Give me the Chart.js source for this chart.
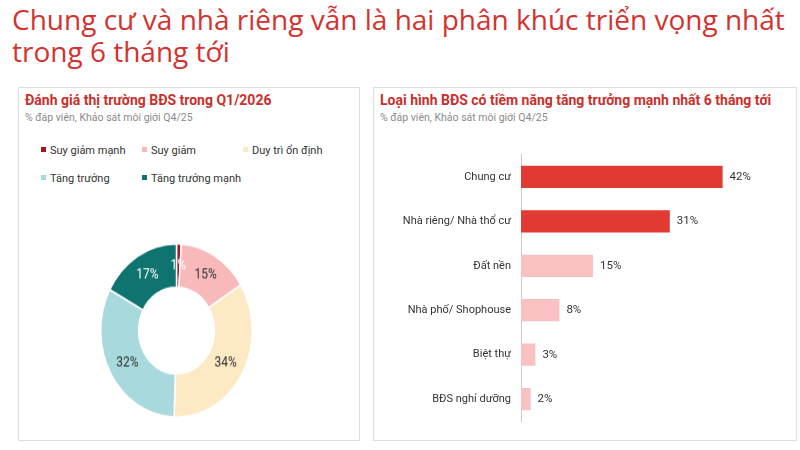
<!DOCTYPE html>
<html lang="vi">
<head>
<meta charset="UTF-8">
<title>Chung cư và nhà riêng</title>
<script src="https://cdn.jsdelivr.net/npm/chart.js"></script>
<style>
    body {
        margin: 0;
        width: 800px;
        height: 450px;
        background: #fff;
        font-family: Roboto, "Noto Sans", sans-serif;
        position: relative;
        overflow: hidden;
    }
    .title {
        position: absolute;
        left: 12px;
        top: 3px;
        font-family: "Open Sans", sans-serif;
        font-size: 28px;
        line-height: 32px;
        color: #d4322e;
        white-space: nowrap;
    }
    .panel {
        position: absolute;
        top: 87px;
        height: 354px;
        border: 1.5px solid #dedede;
        background: #fff;
        box-sizing: border-box;
    }
    .panel h3 {
        position: absolute;
        left: 6px;
        top: 4px;
        margin: 0;
        font-size: 14px;
        font-weight: bold;
        color: #c9302c;
        white-space: nowrap;
    }
    .panel .sub {
        position: absolute;
        left: 6px;
        top: 23px;
        font-size: 10.5px;
        color: #8a8a8a;
        white-space: nowrap;
    }
    .legend {
        position: absolute;
        left: 22px;
        top: 56px;
        width: 320px;
        font-size: 11px;
        color: #333;
    }
    .legend span {
        display: inline-block;
        width: 101px;
        height: 28px;
        white-space: nowrap;
    }
    .legend i {
        display: inline-block;
        width: 5px;
        height: 5px;
        margin-right: 4px;
        vertical-align: 2px;
    }
    .donut {
        position: absolute;
        left: 81px;
        top: 166px;
        width: 153px;
        height: 153px;
        transform: scaleY(1.144);
    }
    .bars {
        position: absolute;
        left: 0;
        top: 50px;
        width: 421px;
        height: 300px;
    }
</style>
</head>
<body>
<div class="title">Chung cư và nhà riêng vẫn là hai phân khúc triển vọng nhất<br>trong 6 tháng tới</div>

<div class="panel" style="left:18px;width:342px;">
    <h3>Đánh giá thị trường BĐS trong Q1/2026</h3>
    <div class="sub">% đáp viên, Khảo sát môi giới Q4/25</div>
    <div class="legend" id="legend"></div>
    <div class="donut"><canvas id="donutCanvas"></canvas></div>
</div>

<div class="panel" style="left:373px;width:424px;">
    <h3>Loại hình BĐS có tiềm năng tăng trưởng mạnh nhất 6 tháng tới</h3>
    <div class="sub">% đáp viên, Khảo sát môi giới Q4/25</div>
    <div class="bars"><canvas id="barCanvas"></canvas></div>
</div>

<script>
    // Đánh giá thị trường
    const marketLabels = ["Suy giảm mạnh", "Suy giảm", "Duy trì ổn định", "Tăng trưởng", "Tăng trưởng mạnh"];
    const marketValues = [1, 15, 34, 32, 17];
    const marketColors = ["#a8141c", "#f7b9ba", "#fde9c4", "#a8d9dc", "#0f7470"];
    const marketTextColors = ["#ffffff", "#333333", "#333333", "#333333", "#ffffff"];

    // Loại hình BĐS
    const typeLabels = ["Chung cư", "Nhà riêng/ Nhà thổ cư", "Đất nền", "Nhà phố/ Shophouse", "Biệt thự", "BĐS nghỉ dưỡng"];
    const typeValues = [42, 31, 15, 8, 3, 2];
    const typeColors = ["#e03a33", "#e03a33", "#f9c1c1", "#f9c1c1", "#f9c1c1", "#f9c1c1"];

    // legend html
    let legendEl = document.getElementById("legend");
    marketLabels.forEach((name, i) => {
        let s = document.createElement("span");
        s.innerHTML = '<i style="background:' + marketColors[i] + '"></i>' + name;
        legendEl.appendChild(s);
        if (i == 2) legendEl.appendChild(document.createElement("br"));
    });

    const donutLabels = {
        id: "donutLabels",
        afterDatasetsDraw(chart) {
            let ctx = chart.ctx;
            let meta = chart.getDatasetMeta(0);
            ctx.save();
            ctx.font = "12px Roboto";
            ctx.textAlign = "center";
            ctx.textBaseline = "middle";
            meta.data.forEach((arc, i) => {
                let p = arc.tooltipPosition();
                ctx.fillStyle = marketTextColors[i];
                ctx.fillText(marketValues[i] + "%", p.x, p.y);
            });
            ctx.restore();
        }
    };

    new Chart(document.getElementById("donutCanvas"), {
        type: "doughnut",
        data: {
            labels: marketLabels,
            datasets: [{
                data: marketValues,
                backgroundColor: marketColors,
                borderColor: "#ffffff",
                borderWidth: 1.5
            }]
        },
        options: {
            responsive: true,
            maintainAspectRatio: false,
            animation: false,
            cutout: "50%",
            plugins: {
                legend: { display: false },
                tooltip: { enabled: false }
            }
        },
        plugins: [donutLabels]
    });

    const barLabels = {
        id: "barLabels",
        afterDatasetsDraw(chart) {
            let ctx = chart.ctx;
            let meta = chart.getDatasetMeta(0);
            ctx.save();
            ctx.font = "11.5px Roboto";
            ctx.fillStyle = "#333";
            ctx.textAlign = "left";
            ctx.textBaseline = "middle";
            meta.data.forEach((bar, i) => {
                ctx.fillText(typeValues[i] + "%", bar.x + 7, bar.y);
            });
            ctx.restore();
        }
    };

    new Chart(document.getElementById("barCanvas"), {
        type: "bar",
        data: {
            labels: typeLabels,
            datasets: [{
                data: typeValues,
                backgroundColor: typeColors,
                barPercentage: 0.5,
                categoryPercentage: 1
            }]
        },
        options: {
            indexAxis: "y",
            responsive: true,
            maintainAspectRatio: false,
            animation: false,
            layout: { padding: { top: 9, bottom: 7, right: 34 } },
            scales: {
                x: { display: false, min: 0, max: 50 },
                y: {
                    grid: { display: false, drawTicks: false },
                    border: { color: "#cccccc", width: 1 },
                    ticks: { color: "#333", font: { size: 11, family: "Roboto" }, padding: 10 },
                    afterFit(scale) { scale.width = 147; }
                }
            },
            plugins: {
                legend: { display: false },
                tooltip: { enabled: false }
            }
        },
        plugins: [barLabels]
    });
</script>
</body>
</html>
